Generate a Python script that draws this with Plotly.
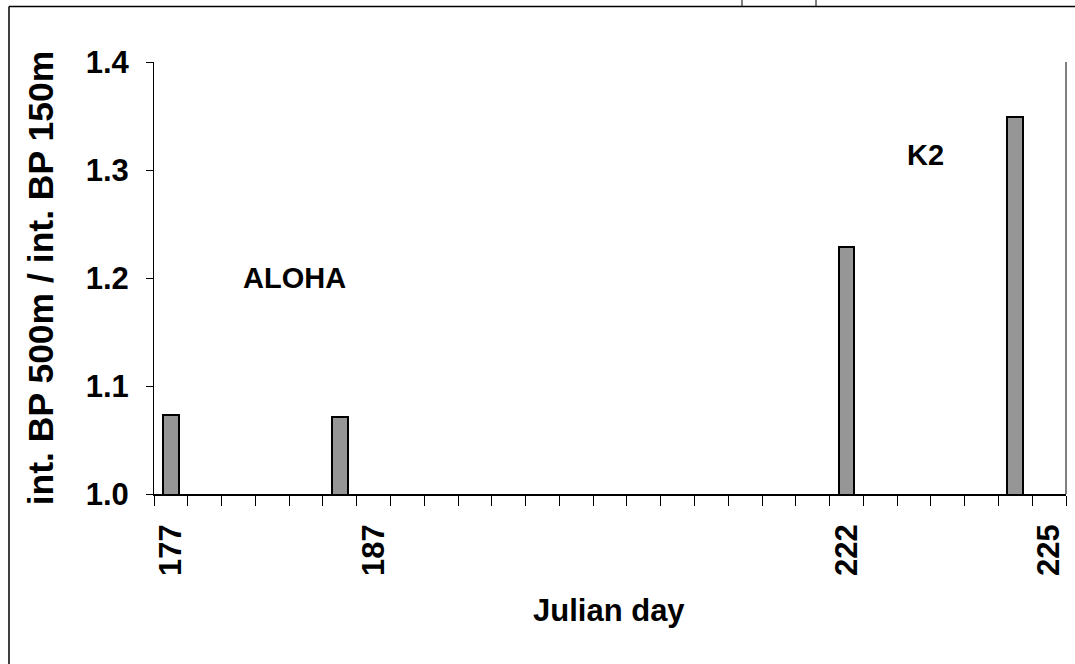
import plotly.graph_objects as go

# ---- data ----
n_categories = 27
bar_positions = [0, 5, 20, 25]
bar_values = [1.073, 1.071, 1.229, 1.349]
tick_positions = [0, 6, 20, 26]
tick_labels = ["177", "187", "222", "225"]
y_ticks = [1.0, 1.1, 1.2, 1.3, 1.4]

FONT = "Liberation Sans, Arial, sans-serif"

W, H = 1075, 664
L, R, T, B = 154, 9, 61.5, 170
pw, ph = W - L - R, H - T - B

def px(x):
    return (x - L) / pw

def py(y):
    return (H - B - y) / ph

fig = go.Figure()
fig.add_trace(go.Bar(
    x=bar_positions, y=bar_values, width=0.47,
    marker=dict(color="#969696", line=dict(color="black", width=2)),
    showlegend=False,
))

fig.update_layout(
    width=W, height=H,
    margin=dict(l=L, r=R, t=T, b=B, pad=0, autoexpand=False),
    paper_bgcolor="white", plot_bgcolor="white",
    font=dict(family=FONT, color="black"),
    xaxis=dict(
        range=[-0.5, n_categories - 0.5],
        tickvals=tick_positions, ticktext=tick_labels,
        tickangle=-90, ticks="", showgrid=False, zeroline=False,
        showline=True, linecolor="black", linewidth=1.5,
        tickfont=dict(size=31, family=FONT, weight="bold"),
        ticklabelstandoff=16,
        minor=dict(tickvals=[i - 0.5 for i in range(n_categories + 1)],
                   ticks="outside", ticklen=10, tickwidth=1, tickcolor="black"),
    ),
    yaxis=dict(
        range=[1.0, 1.4], tickvals=y_ticks, tickformat=".1f",
        ticks="outside", ticklen=7, tickwidth=1, tickcolor="black",
        showgrid=False, zeroline=False,
        showline=True, linecolor="black", linewidth=1,
        tickfont=dict(size=31, family=FONT, weight="bold"),
        ticklabelstandoff=11,
    ),
    bargap=0,
)

def ann(text, x, y, size, angle=0):
    return dict(text=text, x=px(x), y=py(y), xref="paper", yref="paper",
                xanchor="center", yanchor="middle", showarrow=False,
                textangle=angle, font=dict(size=size, family=FONT, weight="bold"))

annotations = [
    ann("ALOHA", 294, 278, 29),
    ann("K2", 925, 155, 29),
    ann("Julian day", 609, 611, 31),
    ann("int. BP 500m / int. BP 150m", 41, 278, 35.5, -90),
]
fig.update_layout(annotations=annotations)

shapes = [
    # outer frame
    dict(type="line", xref="paper", yref="paper", x0=px(9), x1=px(1080),
         y0=py(6), y1=py(6), line=dict(color="black", width=1.5)),
    dict(type="line", xref="paper", yref="paper", x0=px(9), x1=px(9),
         y0=py(6), y1=py(670), line=dict(color="black", width=1.5)),
    dict(type="line", xref="paper", yref="paper", x0=px(742), x1=px(742),
         y0=py(-2), y1=py(6), line=dict(color="black", width=1)),
    dict(type="line", xref="paper", yref="paper", x0=px(816), x1=px(816),
         y0=py(-2), y1=py(6), line=dict(color="black", width=1)),
    # right border of plot area
    dict(type="line", xref="paper", yref="paper", x0=1, x1=1, y0=0, y1=1,
         line=dict(color="black", width=1)),
]
fig.update_layout(shapes=shapes)

fig.write_html("out.html")
